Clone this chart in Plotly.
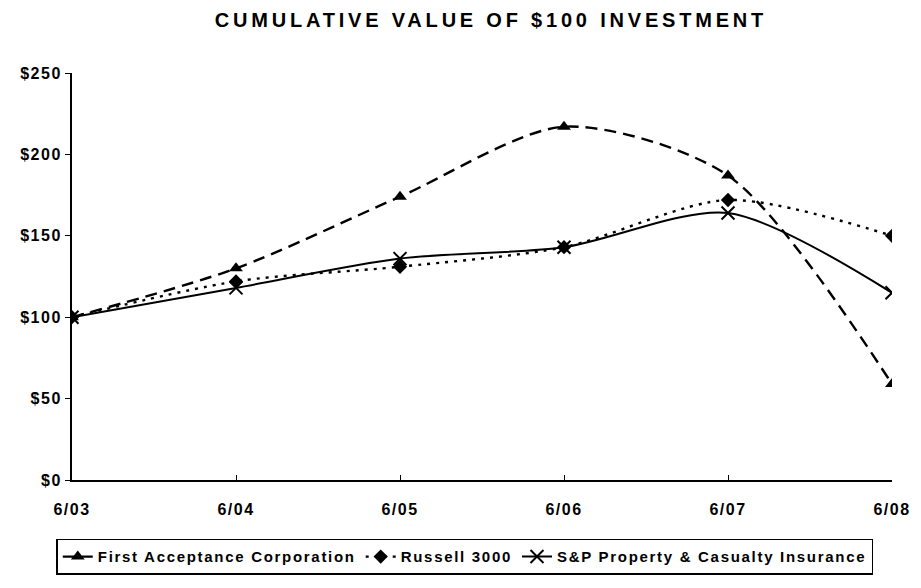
import plotly.graph_objects as go

periods = ["6/03", "6/04", "6/05", "6/06", "6/07", "6/08"]
first_acceptance = [100, 130, 174, 217, 187, 59]
russell_3000 = [100, 122, 131, 143, 172, 150]
sp_property = [100, 118, 136, 143, 164, 115]
y_ticks = [0, 50, 100, 150, 200, 250]
y_tick_labels = ["$0", "$50", "$100", "$150", "$200", "$250"]

fig = go.Figure()
fig.add_trace(go.Scatter(
    x=periods, y=first_acceptance, name="First Acceptance Corporation",
    mode="lines+markers", line=dict(color="black", width=2.4, dash="12px,7px", shape="spline", smoothing=0.8),
    marker=dict(symbol="triangle-up", size=12, color="black")))
fig.add_trace(go.Scatter(
    x=periods, y=russell_3000, name="Russell 3000",
    mode="lines+markers", line=dict(color="black", width=2.4, dash="3px,6px", shape="spline", smoothing=0.8),
    marker=dict(symbol="diamond", size=11, color="black")))
fig.add_trace(go.Scatter(
    x=periods, y=sp_property, name="S&P Property & Casualty Insurance",
    mode="lines+markers", line=dict(color="black", width=2, shape="spline", smoothing=0.8),
    marker=dict(symbol="x-thin", size=13, color="black", line=dict(width=2, color="black"))))

fig.update_layout(
    width=921, height=588,
    paper_bgcolor="white", plot_bgcolor="white",
    margin=dict(l=72, r=29, t=73, b=108),
    font=dict(family="Liberation Sans, Arial, sans-serif", color="black", size=15),
    title=dict(text="<b>CUMULATIVE VALUE OF $100 INVESTMENT</b>", x=0.533, xanchor="center",
               y=0.966, yanchor="middle", font=dict(size=20)),
    showlegend=True,
    legend=dict(orientation="h", x=0.479, xanchor="center", y=-0.233, yanchor="bottom",
                bordercolor="black", borderwidth=1.5, font=dict(size=14, weight="bold"),
                tracegroupgap=0),
)
fig.update_xaxes(
    type="category", range=[0, 5], showline=True, linecolor="black", linewidth=2,
    ticks="inside", ticklen=5, tickcolor="black", showgrid=False, zeroline=False,
    tickfont=dict(size=16, weight="bold"), ticklabelstandoff=14, automargin=False)
fig.update_yaxes(
    range=[0, 250], tickvals=y_ticks, ticktext=y_tick_labels,
    showline=True, linecolor="black", linewidth=2, ticks="outside", ticklen=5,
    tickcolor="black", showgrid=False, zeroline=False, tickfont=dict(size=16, weight="bold"),
    automargin=False)

post = """
document.body.style.margin = '0';
var st = document.createElement('style');
st.textContent = 'text{letter-spacing:1.5px} .legendtext{letter-spacing:1.7px} .gtitle{letter-spacing:3.8px}';
document.head.appendChild(st);
var gd = document.getElementById('{plot_id}');
Plotly.relayout(gd, {'legend.font.size': 15});
"""
fig.write_html("out.html", post_script=post, config={"displayModeBar": False})
